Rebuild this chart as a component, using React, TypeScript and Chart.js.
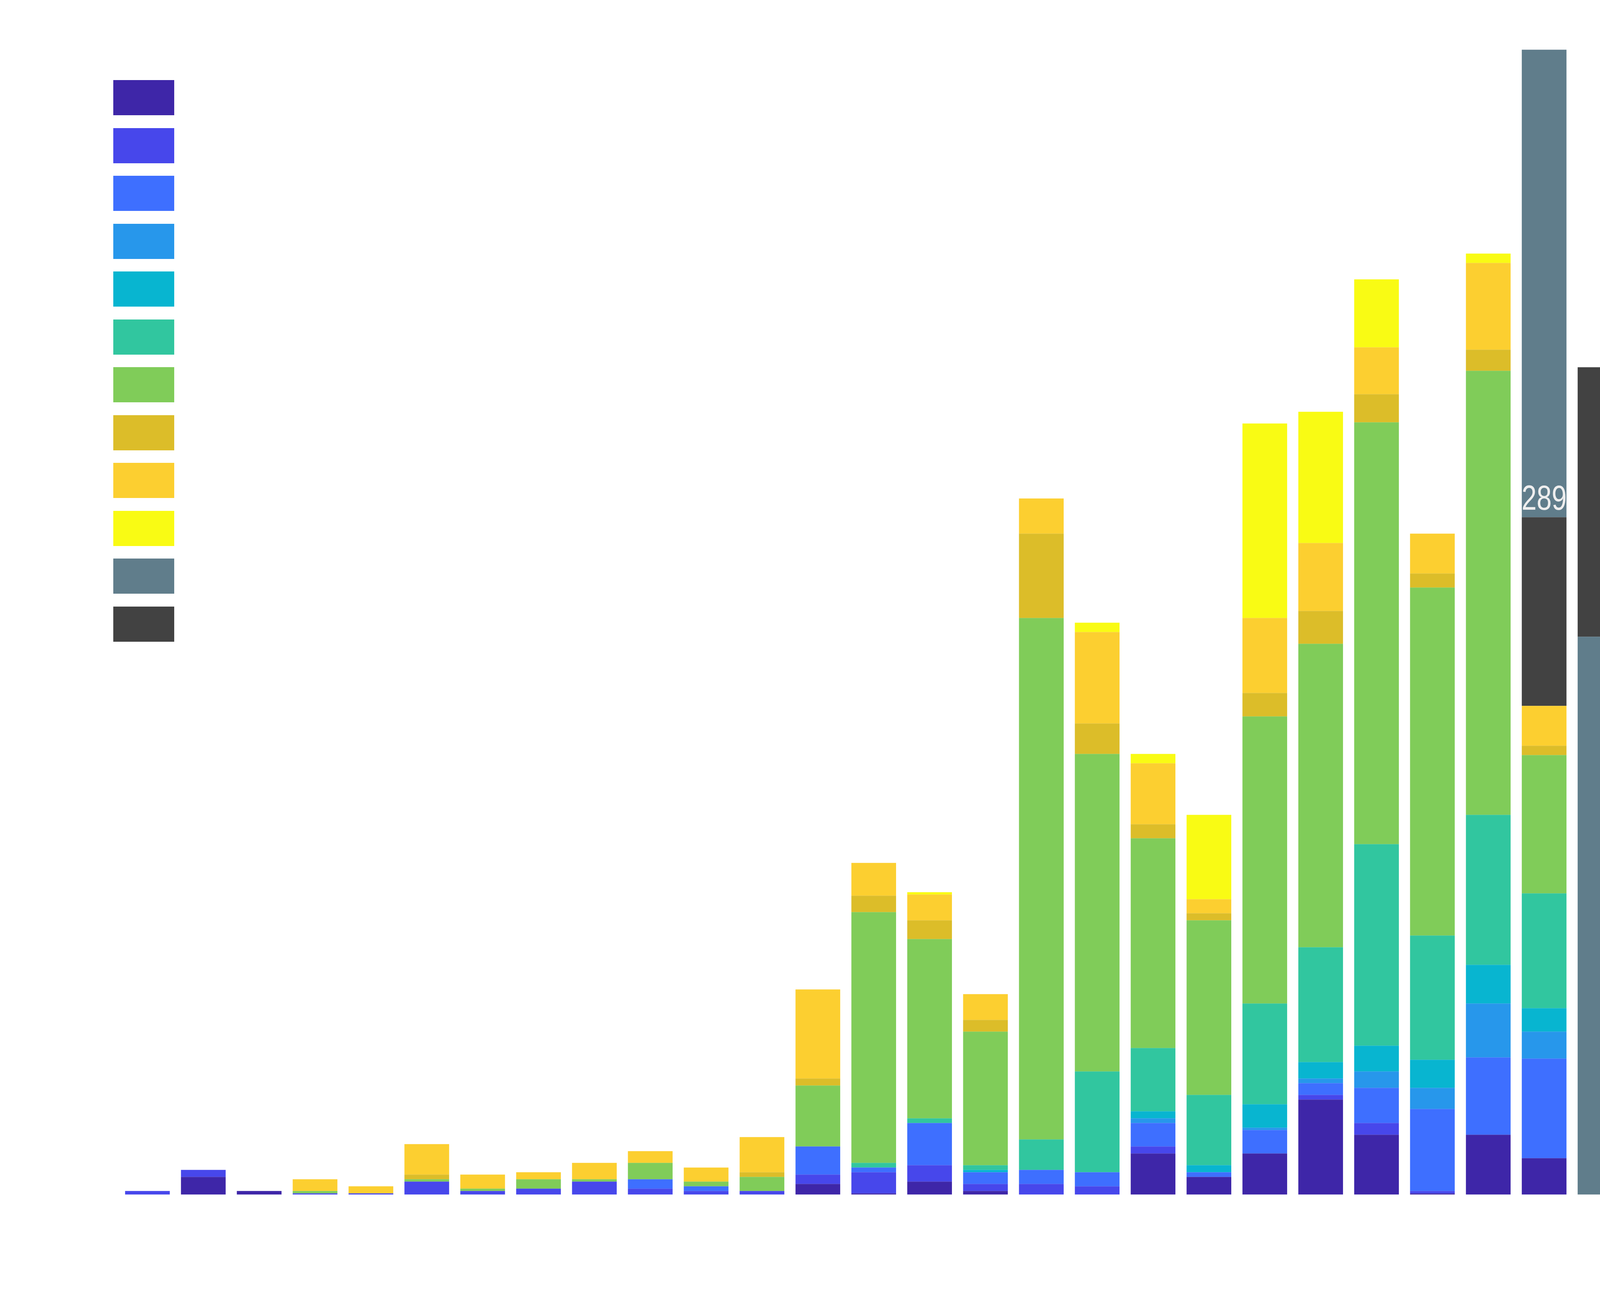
import { useEffect, useRef } from "react";
import { Chart, registerables } from "chart.js";

Chart.register(...registerables);

const years = [
  "1999", "2000", "2001", "2002", "2003", "2004", "2005", "2006", "2007",
  "2008", "2009", "2010", "2011", "2012", "2013", "2014", "2015", "2016",
  "2017", "2018", "2019", "2020", "2021", "2022", "2023", "2024", "2025",
];

const _ = null;

// ten stacked groups, bottom to top
const s1 = [_, 7.5, 1.5, _, _, _, _, _, _, _, _, _, 4.5, 0.5, 5.5, 1.5, _, _, 17.5, 7.5, 17.5, 40.5, 25.5, 0.5, 25.5, 15.5, _];
const s2 = [1.5, 3, _, 0.5, 0.5, 5.5, 1.5, 2.5, 5.5, 2.5, 1.5, 1.5, 4, 9, 7, 3, 4.5, 3.5, 3, _, _, 2, 5, 1, _, _, _];
const s3 = [_, _, _, _, _, _, _, _, _, 4, 2, _, 12, 2, 18, 5, 6, 6, 10, 2, 10, 5, 15, 35, 33, 42.5, _];
const s4 = [_, _, _, _, _, _, _, _, _, _, _, _, _, _, _, _, _, _, 2, _, 1, 2, 7, 9, 23, 11.5, _];
const s5 = [_, _, _, _, _, _, _, _, _, _, _, _, _, _, _, 1, _, _, 3, 3, 10, 7, 11, 12, 16.5, 10, _];
const s6 = [_, _, _, _, _, _, _, _, _, _, _, _, _, 2, 2, 2, 13, 43, 27, 30, 43, 49, 86, 53, 64, 49, _];
const s7 = [_, _, _, 1, _, 1, 1, 4, 1, 7, 2, 6, 26, 107, 76.5, 57, 222.5, 135.5, 89.5, 74.5, 122.5, 129.5, 180, 148.5, 189.5, 59, _];
const s8 = [_, _, _, _, _, 2, _, _, _, _, _, 2, 3, 7, 8, 5, 36, 13, 6, 3, 10, 14, 12, 6, 9, 4, _];
const s9 = [_, _, _, 5, 3, 13, 6, 3, 7, 5, 6, 15, 38, 14, 11, 11, 15, 39, 26, 6, 32, 29, 20, 17, 37, 17, _];
const s10 = [_, _, _, _, _, _, _, _, _, _, _, _, _, _, 1, _, _, 4, 4, 36, 83, 56, 29, _, 4, _, _];

// estimate (slate) and preliminary (dark) parts of the last two years
const estimateBelow = [_, _, _, _, _, _, _, _, _, _, _, _, _, _, _, _, _, _, _, _, _, _, _, _, _, _, 238];
const preliminary = [_, _, _, _, _, _, _, _, _, _, _, _, _, _, _, _, _, _, _, _, _, _, _, _, _, 80.5, 115];
const estimateAbove = [_, _, _, _, _, _, _, _, _, _, _, _, _, _, _, _, _, _, _, _, _, _, _, _, _, 199.5, _];

const seriesColors = [
  "#3e26a8", "#4747eb", "#3e6fff", "#2797eb", "#08b5d0",
  "#31c69f", "#80cc59", "#dcbd29", "#fccf30", "#f9fb14",
];
const estimateColor = "#607d8b";
const preliminaryColor = "#424242";

// bars that get their running total written above the preliminary part
const totalLabelAt = [25];

const stacked = [s1, s2, s3, s4, s5, s6, s7, s8, s9, s10];
const legendColors = [...seriesColors, estimateColor, preliminaryColor];

// the design was laid out on a 5263px wide page; horizontal sizes follow the real width
const DESIGN_WIDTH = 5263;

export default function App() {
  const chartRef = useRef<HTMLCanvasElement>(null);
  const kx = window.innerWidth / DESIGN_WIDTH;

  useEffect(() => {
    if (!chartRef.current) return;
    const ctx = chartRef.current.getContext("2d");
    if (!ctx) return;
    const sx = window.innerWidth / DESIGN_WIDTH;

    const datasets = [
      ...stacked.map((values, i) => ({
        label: `Group ${i + 1}`,
        data: values,
        backgroundColor: seriesColors[i],
        clip: false as const,
      })),
      { label: "Estimate", data: estimateBelow, backgroundColor: estimateColor, clip: false as const },
      { label: "Preliminary", data: preliminary, backgroundColor: preliminaryColor, clip: false as const },
      { label: "Estimate", data: estimateAbove, backgroundColor: estimateColor, clip: false as const },
    ];
    const preliminaryIndex = stacked.length + 1;

    const totalLabel = {
      id: "totalLabel",
      afterDatasetsDraw(chart: Chart) {
        const c = chart.ctx;
        const meta = chart.getDatasetMeta(preliminaryIndex);
        totalLabelAt.forEach((i) => {
          const bar = meta.data[i];
          if (!bar) return;
          let total = 0;
          for (let d = 0; d <= preliminaryIndex; d++) {
            const v = chart.data.datasets[d].data[i] as number | null;
            if (v != null) total += v;
          }
          c.save();
          c.translate(bar.x, bar.y - 19);
          c.scale(sx, 1);
          c.font = '89px "Liberation Sans", Arial, sans-serif';
          c.fillStyle = "#eeeeee";
          c.textAlign = "center";
          c.textBaseline = "alphabetic";
          c.fillText(String(Math.round(total)), 0, 0);
          c.restore();
        });
      },
    };

    const chart = new Chart(ctx, {
      type: "bar",
      data: { labels: years, datasets },
      options: {
        animation: false,
        responsive: true,
        maintainAspectRatio: false,
        layout: { padding: { left: 485 * sx, right: 0, top: 58.3, bottom: 254.7 } },
        datasets: {
          bar: { categoryPercentage: 1, barPercentage: 0.8, borderWidth: 0 },
        },
        plugins: {
          legend: { display: false },
          tooltip: { enabled: false },
        },
        scales: {
          x: { stacked: true, display: false, offset: false },
          y: { stacked: true, display: false, min: 0, max: 500 },
        },
      },
      plugins: [totalLabel],
    });

    return () => {
      chart.destroy();
    };
  }, []);

  return (
    <div style={{ position: "fixed", inset: 0, background: "#ffffff" }}>
      <canvas ref={chartRef} />
      <div style={{ position: "absolute", left: 373 * kx, top: 205 }}>
        {legendColors.map((color, i) => (
          <div
            key={i}
            style={{ width: 200 * kx, height: 90, marginBottom: 32.5, background: color }}
          />
        ))}
      </div>
    </div>
  );
}
